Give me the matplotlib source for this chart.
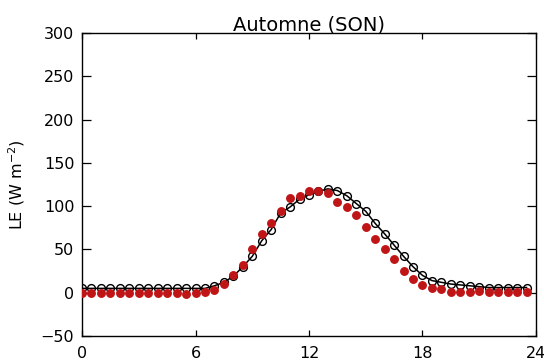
import numpy as np
import matplotlib
matplotlib.use("Agg")
import matplotlib.pyplot as plt

# half-hourly times (h)
hours = np.arange(0, 24, 0.5)

# model (black open circles + line)
le_model = [5, 5, 5, 5, 5, 5, 5, 5, 5, 5, 5, 5,
            5, 5, 8, 12, 19, 30, 42, 60, 73, 92, 99, 108,
            113, 117, 120, 118, 112, 103, 94, 80, 68, 55, 42, 30,
            20, 14, 12, 10, 9, 8, 7, 6, 6, 6, 6, 6]

# observations (red filled circles)
le_obs = [0, 0, 0, 0, 0, 0, 0, 0, 0, 0, 0, -1,
          0, 1, 3, 10, 20, 32, 50, 68, 80, 94, 109, 112,
          118, 118, 115, 105, 99, 90, 76, 62, 51, 39, 25, 16,
          9, 6, 4, 1, 1, 1, 2, 1, 1, 1, 1, 1]

xticks = [0, 6, 12, 18, 24]
yticks = [-50, 0, 50, 100, 150, 200, 250, 300]

fig = plt.figure(figsize=(5.44, 3.62), dpi=100)
ax = fig.add_axes([82 / 544, 1 - 336 / 362, (536 - 82) / 544, (336 - 33) / 362])

ax.plot(hours, le_model, color='black', lw=1.1, marker='o', markersize=5.6,
        markerfacecolor='none', markeredgecolor='black', markeredgewidth=1.0, zorder=2)
ax.plot(hours, le_obs, ls='none', marker='o', markersize=5.4,
        markerfacecolor='#c01517', markeredgecolor='#c01517', zorder=3)

ax.set_xlim(0, 24)
ax.set_ylim(-50, 300)
ax.set_xticks(xticks)
ax.set_yticks(yticks)
ax.set_yticklabels(['\u221250' if t == -50 else str(t) for t in yticks])
ax.tick_params(direction='in', width=0.9, top=True, right=True, labelsize=11.5)
ax.tick_params(axis='x', length=4.4, pad=7)
ax.tick_params(axis='y', length=6.6, pad=5.5)
for s in ax.spines.values():
    s.set_linewidth(1.0)

ax.set_title('Automne (SON)', fontsize=14, pad=2)
ax.set_ylabel('LE (W m$^{-2}$)', fontsize=11.5, labelpad=10)

fig.savefig('out.png', dpi=100)
